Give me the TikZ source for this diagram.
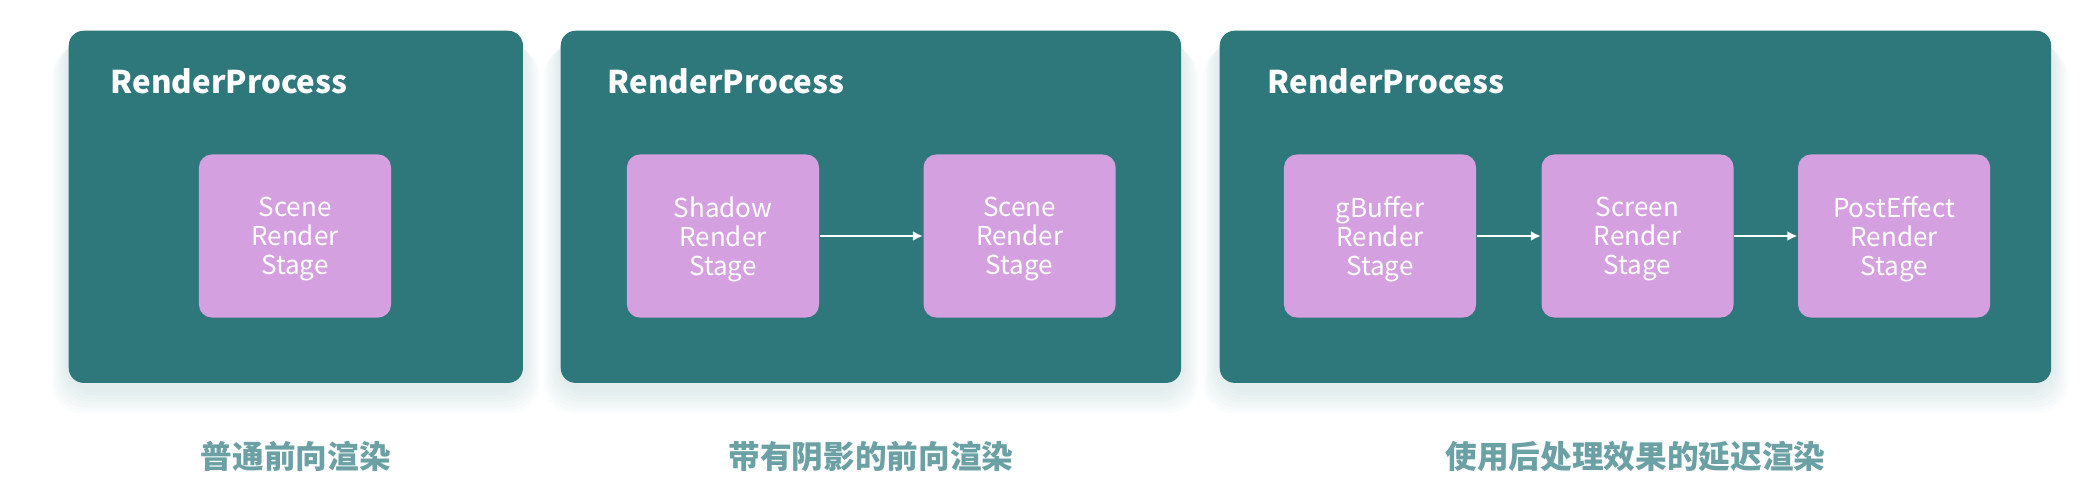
\documentclass[tikz,border=0pt]{standalone}
\usepackage{fontspec}
\setmainfont{Noto Sans CJK SC}
\usetikzlibrary{arrows.meta, positioning, calc}
\definecolor{proccol}{HTML}{2E787C}
\definecolor{stagecol}{HTML}{D4A0E0}
\definecolor{capcol}{HTML}{6BA0A4}
\definecolor{shadecol}{HTML}{B8D0D2}
\tikzset{process/.style = {
  % Panel:
  rectangle, rounded corners=1.5mm,
  fill=proccol, anchor=north west,
  minimum height=3.52cm
  }}
\tikzset{title/.style = {
  anchor=base west, text=white, inner sep=0pt,
  font=\fontsize{8.9}{11}\selectfont\bfseries
  }}
\tikzset{stage/.style = {
  % Rectangle:
  rectangle, rounded corners=1.3mm,
  fill=stagecol,
  minimum width=1.92cm, minimum height=1.63cm,
  inner sep=0pt,
  % Text
  text=white, align=center,
  font=\fontsize{7.4}{8.3}\selectfont,
  text depth=-1pt
  }}
\tikzset{caption/.style = {
  text=capcol,
  font=\fontsize{9}{11}\selectfont\bfseries
  }}
\tikzset{arrow/.style = {
  -{Latex[length=1mm, width=1mm]},
  draw=white,
  line width=0.6pt
  }}

\begin{document}
\begin{tikzpicture}[x=0.01cm, y=-0.01cm]
% LAYERS
\pgfdeclarelayer{bg}
\pgfsetlayers{bg,main}
\useasboundingbox (0,0) rectangle (2100,497);

% PANELS
\node (proc1) [process, minimum width=4.54cm] at (68,30) {};
\node (proc2) [process, minimum width=6.20cm] at (560,30) {};
\node (proc3) [process, minimum width=8.31cm] at (1219,30) {};

\node (title1) [title] at ($(proc1.north west)+(42,63)$) {RenderProcess};
\node (title2) [title] at ($(proc2.north west)+(47,63)$) {RenderProcess};
\node (title3) [title] at ($(proc3.north west)+(48,63)$) {RenderProcess};

% STAGES
\node (scene1) [stage] at (295,236) {Scene\\Render\\Stage};

\node (shadow2) [stage] at (723,236) {Shadow\\Render\\Stage};
\node (scene2) [stage, right=1.03cm of shadow2] {Scene\\Render\\Stage};

\node (gbuf3) [stage] at (1380,236) {gBuffer\\Render\\Stage};
\node (screen3) [stage, right=0.64cm of gbuf3] {Screen\\Render\\Stage};
\node (post3) [stage, right=0.63cm of screen3] {PostEffect\\Render\\Stage};

% CAPTIONS
\node (cap1) [caption] at ($(proc1.south)+(0,73)$) {普通前向渲染};
\node (cap2) [caption] at ($(proc2.south)+(0,73)$) {带有阴影的前向渲染};
\node (cap3) [caption] at ($(proc3.south)+(0,73)$) {使用后处理效果的延迟渲染};

% arrows
\draw [arrow] (shadow2) -- (scene2);
\draw [arrow] (gbuf3) -- (screen3);
\draw [arrow] (screen3) -- (post3);

% shadows
\begin{pgfonlayer}{bg}
\foreach \p in {proc1,proc2,proc3}
  \foreach \i in {1,...,8}
    \fill [shadecol, opacity=0.06, rounded corners=3mm]
      ($(\p.north west)+(-2*\i,2*\i)$) rectangle ($(\p.south east)+(2*\i,6+3*\i)$);
\end{pgfonlayer}
\end{tikzpicture}
\end{document}
